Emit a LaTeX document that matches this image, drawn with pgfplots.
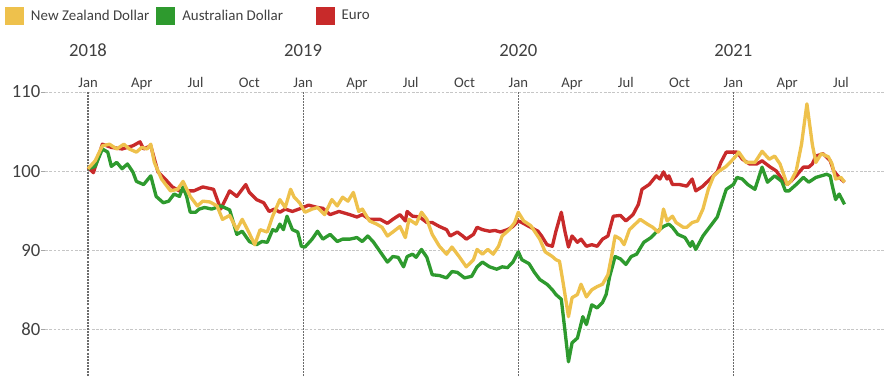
\documentclass[border=0pt]{standalone}
\usepackage{pgfplots}
\pgfplotsset{compat=1.18}
\usepackage{fontspec}
\setmainfont{Carlito}
\definecolor{nzd}{HTML}{EEC14C}
\definecolor{aud}{HTML}{2E9A2E}
\definecolor{eur}{HTML}{C82A2A}
\definecolor{txt}{HTML}{404040}
\begin{document}
\begin{tikzpicture}
\path[use as bounding box] (-33.75pt,0pt) rectangle (635.25pt,282pt);
\begin{axis}[
  at={(0pt,0pt)}, anchor=south west,
  scale only axis, width=629.25pt, height=213pt,
  xmin=-2.4, xmax=44.4, ymin=74.1, ymax=110,
  clip=false,
  axis x line*=top, axis y line*=left, axis line style={draw=none},
  tick align=outside, major tick length=3pt,
  xtick={0,3,...,42},
  xticklabels={Jan,Apr,Jul,Oct,Jan,Apr,Jul,Oct,Jan,Apr,Jul,Oct,Jan,Apr,Jul},
  xtick style={draw=none},
  xticklabel style={font=\fontsize{11}{13}\selectfont, text=txt, anchor=base, yshift=0pt},
  ytick={80,90,100,110},
  ytick style={draw=gray!70, line width=0.6pt},
  yticklabel style={font=\fontsize{14}{16}\selectfont, text=txt, xshift=3pt},
  /pgf/number format/assume math mode=true,
  ymajorgrids,
  grid style={dash pattern=on 2pt off 1.2pt, color=gray!45, line width=0.6pt},
  extra x ticks={0,12,24,36}, extra x tick labels={},
  extra x tick style={grid=major, grid style={dash pattern=on 1.5pt off 0.8pt, color=gray!85!black, line width=0.8pt}, tick style={draw=none}},
  legend columns=3, reverse legend,
  legend image code/.code={\fill[#1, draw=none] (0pt,-7.1pt) rectangle (14.25pt,7.1pt);},
  legend style={at={(axis description cs:0,1)}, anchor=west, xshift=-30pt, yshift=57pt,
    draw=none, fill=none, inner sep=0pt, outer sep=0pt,
    font=\fontsize{11.2}{13}\selectfont, text=txt,
    nodes={inner xsep=0pt},
    /tikz/every odd column/.append style={column sep=5.25pt},
    /tikz/column 2/.append style={column sep=5.25pt},
    /tikz/column 4/.append style={column sep=24.5pt}},
  every axis plot/.append style={line width=2.5pt, line join=round, no markers},
]
\addplot[eur] coordinates {(0.0,100.5)(0.3,99.8)(0.8,103.4)(1.3,103.0)(1.9,102.8)(2.5,103.2)(2.9,103.7)(3.1,102.8)(3.5,103.2)(3.9,99.9)(4.3,99.0)(4.7,98.0)(5.1,97.5)(5.9,97.5)(6.4,98.0)(7.0,97.7)(7.4,95.2)(7.9,97.5)(8.3,96.8)(8.8,98.3)(9.0,97.3)(9.4,96.4)(9.8,96.0)(10.1,94.9)(10.4,95.2)(10.7,94.8)(11.0,95.2)(11.4,94.9)(12.0,95.4)(12.3,95.7)(12.8,95.4)(13.1,95.3)(13.5,94.5)(14.0,94.9)(14.6,94.5)(15.0,94.2)(15.3,94.5)(15.7,93.9)(16.3,93.9)(16.7,93.4)(17.0,93.9)(17.4,94.5)(17.7,93.7)(17.8,94.9)(18.1,94.3)(18.5,94.2)(18.9,93.5)(19.2,93.5)(19.6,93.0)(20.0,92.6)(20.2,91.8)(20.6,92.3)(20.9,91.8)(21.1,91.4)(21.5,92.0)(21.7,92.9)(22.0,92.6)(22.4,92.4)(22.7,92.5)(23.0,92.3)(23.4,92.6)(23.7,93.0)(24.0,93.7)(24.2,93.5)(24.6,93.0)(25.1,92.4)(25.3,91.8)(25.6,90.7)(25.9,90.5)(26.1,92.4)(26.4,94.8)(26.6,92.4)(26.8,90.4)(27.0,91.8)(27.3,91.0)(27.5,91.4)(27.8,90.5)(28.1,90.7)(28.4,90.5)(28.7,91.4)(29.0,91.8)(29.3,94.3)(29.7,94.4)(30.0,93.7)(30.4,94.5)(30.7,95.8)(30.9,97.7)(31.3,98.3)(31.7,99.4)(31.9,99.0)(32.1,99.9)(32.3,99.0)(32.4,99.4)(32.6,98.3)(33.0,98.3)(33.4,98.1)(33.7,99.0)(33.9,97.5)(34.3,98.1)(34.7,99.0)(35.1,99.9)(35.3,101.1)(35.6,102.4)(36.2,102.4)(36.5,101.5)(36.9,100.9)(37.3,100.9)(37.6,101.3)(38.0,100.6)(38.4,100.0)(38.7,99.0)(39.0,98.3)(39.2,98.7)(39.5,99.4)(39.9,100.5)(40.2,100.5)(40.4,100.9)(40.6,101.9)(41.0,102.2)(41.4,101.3)(41.6,100.0)(41.9,99.2)(42.2,98.6)};
\addlegendentry{Euro}
\addplot[aud] coordinates {(0.0,100.3)(0.4,100.6)(0.8,102.8)(1.1,102.4)(1.3,100.6)(1.6,101.1)(1.9,100.3)(2.2,100.9)(2.5,99.9)(2.7,98.7)(3.1,98.3)(3.5,99.4)(3.8,96.8)(4.2,96.0)(4.5,96.2)(4.8,97.1)(5.1,96.8)(5.3,98.0)(5.5,96.8)(5.7,94.8)(6.0,94.8)(6.2,95.2)(6.5,95.4)(6.9,95.2)(7.4,95.6)(7.9,95.1)(8.3,92.0)(8.6,92.4)(9.0,91.1)(9.4,90.7)(9.7,91.1)(10.0,91.0)(10.3,92.6)(10.5,92.4)(10.7,93.3)(10.9,92.6)(11.1,94.3)(11.4,92.6)(11.7,92.3)(11.9,90.5)(12.1,90.4)(12.5,91.4)(12.8,92.4)(13.1,91.4)(13.5,92.0)(13.9,91.1)(14.2,91.4)(14.6,91.4)(15.0,91.6)(15.3,91.1)(15.6,91.8)(15.9,91.1)(16.3,89.8)(16.7,88.5)(17.0,89.2)(17.3,89.1)(17.6,87.9)(17.8,89.2)(18.1,89.5)(18.3,89.1)(18.6,90.1)(18.9,89.1)(19.2,86.9)(19.6,86.8)(20.0,86.5)(20.3,87.3)(20.6,87.2)(21.0,86.5)(21.4,86.7)(21.7,87.9)(22.0,88.5)(22.4,87.9)(22.8,87.6)(23.1,87.9)(23.4,87.8)(23.7,88.5)(24.0,89.8)(24.2,88.8)(24.6,88.3)(24.9,87.2)(25.2,86.3)(25.6,85.7)(25.9,85.0)(26.1,84.4)(26.4,83.8)(26.6,79.9)(26.8,75.9)(27.0,78.3)(27.3,78.9)(27.6,81.6)(27.8,80.6)(28.1,83.1)(28.4,82.7)(28.7,83.4)(28.9,84.4)(29.1,86.7)(29.4,89.2)(29.7,88.9)(30.0,88.2)(30.3,89.2)(30.6,89.5)(31.0,91.0)(31.4,91.6)(31.7,92.3)(32.1,93.0)(32.4,93.3)(32.6,92.9)(32.9,92.0)(33.3,91.6)(33.6,90.5)(33.7,91.1)(33.9,90.1)(34.3,91.8)(34.7,93.0)(35.1,94.2)(35.3,95.6)(35.6,97.7)(36.0,98.3)(36.2,99.2)(36.5,99.0)(36.8,98.3)(37.2,97.7)(37.6,100.5)(37.9,98.6)(38.3,99.4)(38.7,98.7)(38.9,97.5)(39.1,97.5)(39.5,98.3)(39.9,99.2)(40.2,98.6)(40.6,99.2)(41.2,99.6)(41.4,99.4)(41.5,98.3)(41.7,96.4)(41.9,97.1)(42.2,95.8)};
\addlegendentry{Australian Dollar}
\addplot[nzd] coordinates {(0.0,100.3)(0.4,101.3)(0.8,103.2)(1.2,103.4)(1.6,102.8)(2.0,103.4)(2.3,102.8)(2.7,102.4)(3.0,103.0)(3.3,102.8)(3.5,103.4)(3.7,101.1)(4.1,99.0)(4.6,97.5)(5.0,97.7)(5.3,98.7)(5.7,96.8)(6.1,95.6)(6.4,96.2)(6.8,96.1)(7.2,95.6)(7.5,93.9)(7.9,94.4)(8.3,92.6)(8.6,93.9)(8.9,92.6)(9.3,90.7)(9.6,92.6)(10.0,92.3)(10.3,94.3)(10.7,96.4)(11.0,95.4)(11.3,97.7)(11.5,96.7)(11.8,96.0)(12.1,94.8)(12.5,95.2)(12.8,95.4)(13.2,94.5)(13.6,96.4)(13.9,95.6)(14.2,96.7)(14.5,96.2)(14.8,97.3)(15.1,94.9)(15.3,95.2)(15.7,93.7)(16.1,93.3)(16.4,92.9)(16.7,91.8)(17.0,92.3)(17.4,93.0)(17.7,91.6)(17.9,93.9)(18.3,93.3)(18.6,94.8)(18.9,93.9)(19.2,92.0)(19.6,90.5)(20.0,89.5)(20.3,90.4)(20.7,89.2)(21.1,87.9)(21.5,88.8)(21.7,90.1)(22.0,89.5)(22.3,90.1)(22.6,89.5)(22.9,90.5)(23.1,91.8)(23.5,92.6)(23.8,93.5)(24.0,94.8)(24.3,93.7)(24.7,93.1)(25.2,91.4)(25.5,89.8)(25.9,89.2)(26.1,88.8)(26.3,88.6)(26.5,85.9)(26.8,81.6)(27.0,84.0)(27.3,84.4)(27.5,85.7)(27.8,84.1)(28.1,85.0)(28.4,85.4)(28.7,85.7)(29.0,86.9)(29.2,89.2)(29.4,91.8)(29.7,91.4)(29.9,90.7)(30.2,92.6)(30.8,93.9)(31.2,93.3)(31.5,92.9)(31.8,92.3)(31.9,92.6)(32.1,95.2)(32.3,93.7)(32.6,94.3)(32.8,93.5)(33.2,92.9)(33.4,92.9)(33.7,93.5)(34.0,93.7)(34.3,95.2)(34.6,97.7)(34.9,99.4)(35.2,100.0)(35.6,100.6)(35.9,101.3)(36.1,101.8)(36.3,102.4)(36.7,101.1)(37.2,101.1)(37.6,102.5)(38.0,101.5)(38.3,101.9)(38.6,100.9)(39.0,98.3)(39.2,98.7)(39.5,100.0)(39.8,103.4)(40.1,108.5)(40.4,103.4)(40.6,101.1)(40.9,102.2)(41.3,101.8)(41.5,100.9)(41.7,99.0)(42.0,99.2)(42.2,98.6)};
\addlegendentry{New Zealand Dollar}
\node[font=\fontsize{14}{16}\selectfont, text=txt, anchor=base, yshift=26.25pt] at (axis cs:0,110) {2018};
\node[font=\fontsize{14}{16}\selectfont, text=txt, anchor=base, yshift=26.25pt] at (axis cs:12,110) {2019};
\node[font=\fontsize{14}{16}\selectfont, text=txt, anchor=base, yshift=26.25pt] at (axis cs:24,110) {2020};
\node[font=\fontsize{14}{16}\selectfont, text=txt, anchor=base, yshift=26.25pt] at (axis cs:36,110) {2021};
\end{axis}
\end{tikzpicture}
\end{document}
